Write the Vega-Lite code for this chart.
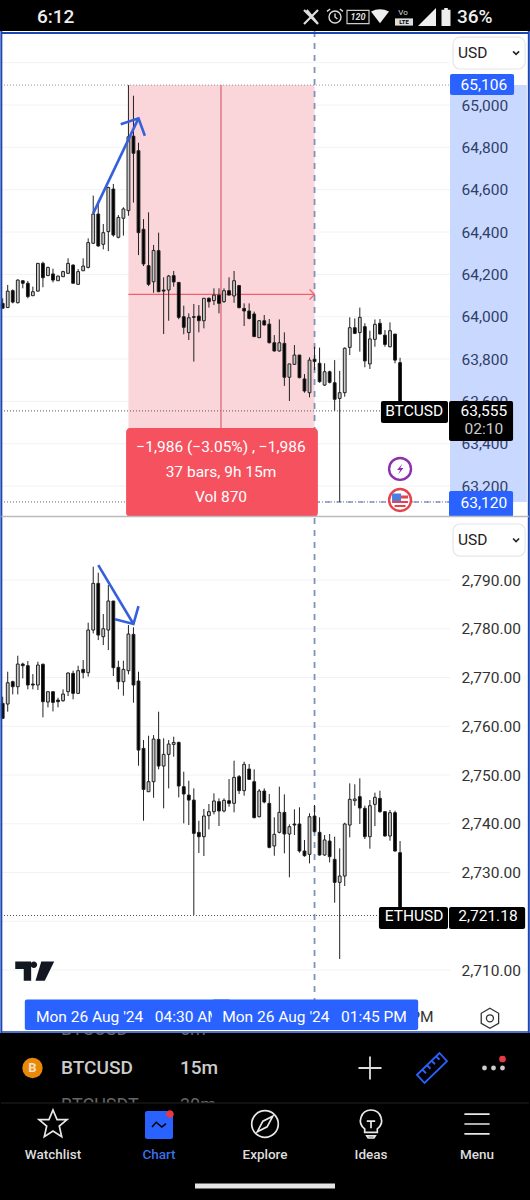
{"$schema":"https://vega.github.io/schema/vega-lite/v6.json","background":"#000","padding":0,"spacing":0,"bounds":"flush","config":{"view":{"stroke":null},"text":{"font":"Roboto"},"concat":{"spacing":0}},
"datasets":{
"btc":[
{"t":"2024-08-25T22:15","o":64063,"h":64087,"l":64040,"c":64040},{"t":"2024-08-25T22:30","o":64043,"h":64150,"l":64043,"c":64121},{"t":"2024-08-25T22:45","o":64123,"h":64129,"l":64063,"c":64069},{"t":"2024-08-25T23:00","o":64066,"h":64176,"l":64063,"c":64173},{"t":"2024-08-25T23:15","o":64170,"h":64170,"l":64134,"c":64158},{"t":"2024-08-25T23:30","o":64158,"h":64169,"l":64087,"c":64095},{"t":"2024-08-25T23:45","o":64099,"h":64142,"l":64099,"c":64118},
{"t":"2024-08-26T00:00","o":64121,"h":64252,"l":64118,"c":64252},{"t":"2024-08-26T00:15","o":64252,"h":64260,"l":64139,"c":64184},{"t":"2024-08-26T00:30","o":64194,"h":64236,"l":64192,"c":64233},{"t":"2024-08-26T00:45","o":64202,"h":64227,"l":64162,"c":64173},{"t":"2024-08-26T01:00","o":64170,"h":64194,"l":64170,"c":64192},{"t":"2024-08-26T01:15","o":64189,"h":64217,"l":64189,"c":64213},{"t":"2024-08-26T01:30","o":64205,"h":64276,"l":64202,"c":64252},{"t":"2024-08-26T01:45","o":64244,"h":64247,"l":64158,"c":64158},{"t":"2024-08-26T02:00","o":64153,"h":64225,"l":64150,"c":64213},{"t":"2024-08-26T02:15","o":64217,"h":64276,"l":64217,"c":64239},{"t":"2024-08-26T02:30","o":64233,"h":64370,"l":64228,"c":64350},{"t":"2024-08-26T02:45","o":64347,"h":64572,"l":64343,"c":64485},{"t":"2024-08-26T03:00","o":64485,"h":64548,"l":64331,"c":64334},{"t":"2024-08-26T03:15","o":64342,"h":64438,"l":64318,"c":64397},{"t":"2024-08-26T03:30","o":64402,"h":64614,"l":64310,"c":64610},{"t":"2024-08-26T03:45","o":64603,"h":64627,"l":64378,"c":64386},{"t":"2024-08-26T04:00","o":64375,"h":64480,"l":64370,"c":64469},{"t":"2024-08-26T04:15","o":64465,"h":64517,"l":64383,"c":64509},{"t":"2024-08-26T04:30","o":64501,"h":65094,"l":64477,"c":64850},{"t":"2024-08-26T04:45","o":64853,"h":65044,"l":64539,"c":64772},{"t":"2024-08-26T05:00","o":64784,"h":64822,"l":64291,"c":64397},{"t":"2024-08-26T05:15","o":64413,"h":64461,"l":64239,"c":64249},{"t":"2024-08-26T05:30","o":64241,"h":64493,"l":64145,"c":64153},{"t":"2024-08-26T05:45","o":64165,"h":64339,"l":64113,"c":64313},{"t":"2024-08-26T06:00","o":64312,"h":64397,"l":64118,"c":64118},{"t":"2024-08-26T06:15","o":64126,"h":64186,"l":63918,"c":64121},{"t":"2024-08-26T06:30","o":64126,"h":64197,"l":63981,"c":64192},{"t":"2024-08-26T06:45","o":64194,"h":64216,"l":64142,"c":64164},{"t":"2024-08-26T07:00","o":64162,"h":64162,"l":63988,"c":63997},{"t":"2024-08-26T07:15","o":64000,"h":64052,"l":63917,"c":63950},{"t":"2024-08-26T07:30","o":63925,"h":64016,"l":63890,"c":63995},{"t":"2024-08-26T07:45","o":64000,"h":64060,"l":63788,"c":63997},{"t":"2024-08-26T08:00","o":64003,"h":64055,"l":63926,"c":63981},{"t":"2024-08-26T08:15","o":63981,"h":64088,"l":63945,"c":64087},{"t":"2024-08-26T08:30","o":64087,"h":64091,"l":64043,"c":64071},{"t":"2024-08-26T08:45","o":64076,"h":64134,"l":64055,"c":64102},{"t":"2024-08-26T09:00","o":64102,"h":64134,"l":64016,"c":64063},{"t":"2024-08-26T09:15","o":64071,"h":64134,"l":64066,"c":64123},{"t":"2024-08-26T09:30","o":64123,"h":64186,"l":64102,"c":64102},{"t":"2024-08-26T09:45","o":64098,"h":64216,"l":64066,"c":64170},{"t":"2024-08-26T10:00","o":64147,"h":64150,"l":64039,"c":64043},{"t":"2024-08-26T10:15","o":64039,"h":64063,"l":63956,"c":64027},{"t":"2024-08-26T10:30","o":64027,"h":64063,"l":63987,"c":63992},{"t":"2024-08-26T10:45","o":64013,"h":64024,"l":63906,"c":63906},{"t":"2024-08-26T11:00","o":63901,"h":63984,"l":63901,"c":63981},{"t":"2024-08-26T11:15","o":63981,"h":64008,"l":63958,"c":63961},{"t":"2024-08-26T11:30","o":63965,"h":63989,"l":63874,"c":63877},{"t":"2024-08-26T11:45","o":63877,"h":63913,"l":63835,"c":63838},{"t":"2024-08-26T12:00","o":63838,"h":63987,"l":63835,"c":63877},{"t":"2024-08-26T12:15","o":63874,"h":63926,"l":63673,"c":63714},{"t":"2024-08-26T12:30","o":63714,"h":63777,"l":63602,"c":63777},{"t":"2024-08-26T12:45","o":63775,"h":63866,"l":63772,"c":63819},{"t":"2024-08-26T13:00","o":63819,"h":63819,"l":63709,"c":63712},{"t":"2024-08-26T13:15","o":63706,"h":63729,"l":63641,"c":63649},{"t":"2024-08-26T13:30","o":63641,"h":63808,"l":63619,"c":63795},{"t":"2024-08-26T13:45","o":63799,"h":63858,"l":63748,"c":63788},{"t":"2024-08-26T14:00","o":63780,"h":63854,"l":63688,"c":63693},{"t":"2024-08-26T14:15","o":63677,"h":63780,"l":63673,"c":63740},{"t":"2024-08-26T14:30","o":63740,"h":63745,"l":63685,"c":63690},{"t":"2024-08-26T14:45","o":63688,"h":63795,"l":63556,"c":63610},{"t":"2024-08-26T15:00","o":63614,"h":63744,"l":63125,"c":63641},{"t":"2024-08-26T15:15","o":63641,"h":63855,"l":63622,"c":63851},{"t":"2024-08-26T15:30","o":63855,"h":63997,"l":63819,"c":63948},{"t":"2024-08-26T15:45","o":63948,"h":63992,"l":63918,"c":63921},{"t":"2024-08-26T16:00","o":63925,"h":64043,"l":63835,"c":63997},{"t":"2024-08-26T16:15","o":63953,"h":63969,"l":63761,"c":63791},{"t":"2024-08-26T16:30","o":63777,"h":63934,"l":63753,"c":63895},{"t":"2024-08-26T16:45","o":63893,"h":63987,"l":63858,"c":63964},{"t":"2024-08-26T17:00","o":63969,"h":63989,"l":63918,"c":63918},{"t":"2024-08-26T17:15","o":63913,"h":63937,"l":63858,"c":63869},{"t":"2024-08-26T17:30","o":63858,"h":63973,"l":63855,"c":63934},{"t":"2024-08-26T17:45","o":63918,"h":63918,"l":63780,"c":63795},{"t":"2024-08-26T18:00","o":63783,"h":63806,"l":63555,"c":63555}],
"eth":[
{"t":"2024-08-25T22:15","o":2764.70,"h":2766.06,"l":2761.62,"c":2761.62},{"t":"2024-08-25T22:30","o":2764.56,"h":2771.19,"l":2762.99,"c":2768.93},{"t":"2024-08-25T22:45","o":2769.14,"h":2769.35,"l":2766.54,"c":2768.11},{"t":"2024-08-25T23:00","o":2768.11,"h":2774.47,"l":2766.54,"c":2772.76},{"t":"2024-08-25T23:15","o":2772.76,"h":2773.04,"l":2769.82,"c":2772.42},{"t":"2024-08-25T23:30","o":2772.42,"h":2773.38,"l":2767.57,"c":2768.46},{"t":"2024-08-25T23:45","o":2768.66,"h":2770.71,"l":2767.57,"c":2768.46},
{"t":"2024-08-26T00:00","o":2768.46,"h":2773.24,"l":2767.43,"c":2772.56},{"t":"2024-08-26T00:15","o":2772.70,"h":2772.90,"l":2761.82,"c":2765.04},{"t":"2024-08-26T00:30","o":2764.97,"h":2767.09,"l":2763.87,"c":2767.09},{"t":"2024-08-26T00:45","o":2767.09,"h":2767.09,"l":2763.05,"c":2764.90},{"t":"2024-08-26T01:00","o":2765.38,"h":2765.86,"l":2763.87,"c":2765.04},{"t":"2024-08-26T01:15","o":2765.24,"h":2767.57,"l":2765.04,"c":2766.61},{"t":"2024-08-26T01:30","o":2767.09,"h":2771.05,"l":2766.20,"c":2770.92},{"t":"2024-08-26T01:45","o":2770.85,"h":2771.40,"l":2765.52,"c":2766.75},{"t":"2024-08-26T02:00","o":2766.75,"h":2772.42,"l":2766.61,"c":2771.40},{"t":"2024-08-26T02:15","o":2771.67,"h":2773.58,"l":2769.82,"c":2770.99},{"t":"2024-08-26T02:30","o":2770.99,"h":2781.24,"l":2770.17,"c":2779.74},{"t":"2024-08-26T02:45","o":2779.74,"h":2792.73,"l":2779.05,"c":2789.31},{"t":"2024-08-26T03:00","o":2789.31,"h":2791.50,"l":2777.69,"c":2778.71},{"t":"2024-08-26T03:15","o":2778.37,"h":2783.02,"l":2776.66,"c":2780.01},{"t":"2024-08-26T03:30","o":2779.74,"h":2788.97,"l":2775.64,"c":2785.69},{"t":"2024-08-26T03:45","o":2785.69,"h":2785.69,"l":2770.30,"c":2772.01},{"t":"2024-08-26T04:00","o":2772.08,"h":2773.45,"l":2767.57,"c":2769.14},{"t":"2024-08-26T04:15","o":2769.14,"h":2773.45,"l":2766.27,"c":2771.67},{"t":"2024-08-26T04:30","o":2771.40,"h":2780.76,"l":2770.64,"c":2778.92},{"t":"2024-08-26T04:45","o":2778.85,"h":2780.29,"l":2764.83,"c":2768.46},{"t":"2024-08-26T05:00","o":2769.28,"h":2771.19,"l":2751.91,"c":2755.12},{"t":"2024-08-26T05:15","o":2755.46,"h":2757.17,"l":2740.63,"c":2747.05},{"t":"2024-08-26T05:30","o":2746.57,"h":2758.06,"l":2746.57,"c":2748.63},{"t":"2024-08-26T05:45","o":2748.63,"h":2758.20,"l":2745.34,"c":2757.38},{"t":"2024-08-26T06:00","o":2757.31,"h":2762.99,"l":2751.16,"c":2751.84},{"t":"2024-08-26T06:15","o":2751.84,"h":2757.52,"l":2743.16,"c":2754.23},{"t":"2024-08-26T06:30","o":2754.23,"h":2757.17,"l":2747.26,"c":2756.35},{"t":"2024-08-26T06:45","o":2756.28,"h":2757.86,"l":2753.75,"c":2756.69},{"t":"2024-08-26T07:00","o":2756.69,"h":2756.83,"l":2745.41,"c":2747.74},{"t":"2024-08-26T07:15","o":2747.60,"h":2750.68,"l":2740.08,"c":2746.10},{"t":"2024-08-26T07:30","o":2745.89,"h":2748.83,"l":2739.74,"c":2744.86},{"t":"2024-08-26T07:45","o":2744.86,"h":2747.26,"l":2721.30,"c":2738.03},{"t":"2024-08-26T08:00","o":2738.23,"h":2740.63,"l":2734.00,"c":2737.34},{"t":"2024-08-26T08:15","o":2737.35,"h":2743.03,"l":2733.38,"c":2741.59},{"t":"2024-08-26T08:30","o":2741.66,"h":2744.05,"l":2738.85,"c":2742.48},{"t":"2024-08-26T08:45","o":2742.48,"h":2746.24,"l":2741.93,"c":2744.67},{"t":"2024-08-26T09:00","o":2744.53,"h":2745.21,"l":2739.54,"c":2742.62},{"t":"2024-08-26T09:15","o":2742.62,"h":2745.21,"l":2742.34,"c":2744.80},{"t":"2024-08-26T09:30","o":2744.73,"h":2749.18,"l":2743.50,"c":2744.19},{"t":"2024-08-26T09:45","o":2744.19,"h":2752.94,"l":2742.34,"c":2749.52},{"t":"2024-08-26T10:00","o":2749.66,"h":2750.00,"l":2746.10,"c":2746.79},{"t":"2024-08-26T10:15","o":2746.79,"h":2752.74,"l":2745.76,"c":2752.19},{"t":"2024-08-26T10:30","o":2751.23,"h":2752.26,"l":2748.97,"c":2749.11},{"t":"2024-08-26T10:45","o":2748.63,"h":2751.16,"l":2741.11,"c":2741.25},{"t":"2024-08-26T11:00","o":2741.45,"h":2747.13,"l":2741.32,"c":2746.72},{"t":"2024-08-26T11:15","o":2746.72,"h":2747.26,"l":2744.19,"c":2744.46},{"t":"2024-08-26T11:30","o":2744.19,"h":2746.10,"l":2734.96,"c":2735.16},{"t":"2024-08-26T11:45","o":2735.44,"h":2741.32,"l":2733.45,"c":2737.83},{"t":"2024-08-26T12:00","o":2738.24,"h":2747.61,"l":2738.03,"c":2742.34},{"t":"2024-08-26T12:15","o":2742.34,"h":2746.03,"l":2733.93,"c":2737.90},{"t":"2024-08-26T12:30","o":2737.90,"h":2739.88,"l":2729.01,"c":2739.40},{"t":"2024-08-26T12:45","o":2739.95,"h":2742.96,"l":2737.69,"c":2739.74},{"t":"2024-08-26T13:00","o":2739.95,"h":2743.37,"l":2734.07,"c":2734.41},{"t":"2024-08-26T13:15","o":2734.41,"h":2736.67,"l":2733.25,"c":2733.45},{"t":"2024-08-26T13:30","o":2733.73,"h":2742.14,"l":2731.88,"c":2741.45},{"t":"2024-08-26T13:45","o":2741.59,"h":2743.85,"l":2738.24,"c":2738.38},{"t":"2024-08-26T14:00","o":2738.24,"h":2741.32,"l":2733.45,"c":2733.59},{"t":"2024-08-26T14:15","o":2733.59,"h":2737.69,"l":2733.45,"c":2736.67},{"t":"2024-08-26T14:30","o":2736.46,"h":2737.90,"l":2732.08,"c":2733.25},{"t":"2024-08-26T14:45","o":2732.70,"h":2737.35,"l":2723.81,"c":2727.98},{"t":"2024-08-26T15:00","o":2727.98,"h":2734.96,"l":2712.25,"c":2729.28},{"t":"2024-08-26T15:15","o":2729.28,"h":2740.22,"l":2727.23,"c":2739.95},{"t":"2024-08-26T15:30","o":2739.74,"h":2748.29,"l":2737.21,"c":2745.01},{"t":"2024-08-26T15:45","o":2744.73,"h":2748.09,"l":2743.71,"c":2745.08},{"t":"2024-08-26T16:00","o":2745.56,"h":2749.32,"l":2739.95,"c":2743.23},{"t":"2024-08-26T16:15","o":2743.16,"h":2743.71,"l":2736.87,"c":2737.35},{"t":"2024-08-26T16:30","o":2737.35,"h":2744.87,"l":2734.89,"c":2743.71},{"t":"2024-08-26T16:45","o":2743.98,"h":2746.38,"l":2739.54,"c":2745.42},{"t":"2024-08-26T17:00","o":2745.21,"h":2746.79,"l":2742.27,"c":2742.48},{"t":"2024-08-26T17:15","o":2742.48,"h":2742.48,"l":2737.35,"c":2737.49},{"t":"2024-08-26T17:30","o":2737.49,"h":2742.82,"l":2736.53,"c":2742.27},{"t":"2024-08-26T17:45","o":2742.27,"h":2742.68,"l":2734.27,"c":2734.41},{"t":"2024-08-26T18:00","o":2734.07,"h":2736.46,"l":2721.18,"c":2721.18}],
"vgrid":[{"t":"2024-08-26T00:00"},{"t":"2024-08-26T06:00"},{"t":"2024-08-26T12:00"},{"t":"2024-08-26T18:00"}]
},
"vconcat":[
{"width":530,"height":31,"data":{"values":[{"panel":"status"}]},"layer":[
{"mark":{"type":"text","align":"left","fontSize":19,"fontWeight":500,"color":"#eee"},"encoding":{"text":{"value":"6:12"},"x":{"datum":37,"scale":{"domain":[0,530]},"axis":null},"y":{"datum":17,"scale":{"domain":[31,0]},"axis":null}}},
{"mark":{"type":"text","align":"left","fontSize":19,"fontWeight":500,"color":"#eee"},"encoding":{"text":{"value":"36%"},"x":{"datum":457,"scale":{"domain":[0,530]},"axis":null},"y":{"datum":17,"scale":{"domain":[31,0]},"axis":null}}},
{"mark":{"type":"point","shape":"M-1,-1L1,1M1,-1L-1,1M-.6,-1L1,1","filled":false,"opacity":1,"stroke":"#ddd","strokeWidth":2.2,"size":196},"encoding":{"x":{"datum":311,"scale":{"domain":[0,530]},"axis":null},"y":{"datum":17,"scale":{"domain":[31,0]},"axis":null}}},
{"mark":{"type":"point","shape":"M-.75,0A.75,.75 0 1,1 .75,0A.75,.75 0 1,1 -.75,0M0,-.45V0L.3,.25M-1,-.7L-.6,-1M1,-.7L.6,-1","filled":false,"opacity":1,"stroke":"#ddd","strokeWidth":1.4,"size":256},"encoding":{"x":{"datum":335,"scale":{"domain":[0,530]},"axis":null},"y":{"datum":17,"scale":{"domain":[31,0]},"axis":null}}},
{"mark":{"type":"point","shape":"M-1,-.6H1V.6H-1Z","filled":false,"opacity":1,"stroke":"#ccc","strokeWidth":1.2,"size":484},"encoding":{"x":{"datum":358,"scale":{"domain":[0,530]},"axis":null},"y":{"datum":17,"scale":{"domain":[31,0]},"axis":null}}},
{"mark":{"type":"text","fontSize":9,"fontStyle":"italic","fontWeight":700,"color":"#ddd"},"encoding":{"text":{"value":"120"},"x":{"datum":358,"scale":{"domain":[0,530]},"axis":null},"y":{"datum":17,"scale":{"domain":[31,0]},"axis":null}}},
{"mark":{"type":"point","shape":"M-1,-.6Q0,-1.1 1,-.6L0,.7Z","filled":true,"opacity":1,"color":"#eee","size":324},"encoding":{"x":{"datum":380,"scale":{"domain":[0,530]},"axis":null},"y":{"datum":17,"scale":{"domain":[31,0]},"axis":null}}},
{"mark":{"type":"text","fontSize":8,"color":"#ddd"},"encoding":{"text":{"value":"Vo"},"x":{"datum":403,"scale":{"domain":[0,530]},"axis":null},"y":{"datum":13,"scale":{"domain":[31,0]},"axis":null}}},
{"mark":{"type":"point","shape":"M-1,-.4H1V.4H-1Z","filled":true,"opacity":1,"color":"#ddd","size":324},"encoding":{"x":{"datum":404,"scale":{"domain":[0,530]},"axis":null},"y":{"datum":22,"scale":{"domain":[31,0]},"axis":null}}},
{"mark":{"type":"text","fontSize":6,"fontWeight":700,"color":"#000"},"encoding":{"text":{"value":"LTE"},"x":{"datum":404,"scale":{"domain":[0,530]},"axis":null},"y":{"datum":22,"scale":{"domain":[31,0]},"axis":null}}},
{"mark":{"type":"point","shape":"M1,-1V1H-1Z","filled":true,"opacity":1,"color":"#eee","size":324},"encoding":{"x":{"datum":427,"scale":{"domain":[0,530]},"axis":null},"y":{"datum":17,"scale":{"domain":[31,0]},"axis":null}}},
{"mark":{"type":"point","shape":"M-.5,-.8H.5V1H-.5ZM-.2,-1H.2V-.8H-.2Z","filled":true,"opacity":1,"color":"#eee","size":324},"encoding":{"x":{"datum":446,"scale":{"domain":[0,530]},"axis":null},"y":{"datum":17,"scale":{"domain":[31,0]},"axis":null}}}
]},
{"width":530,"height":487,"view":{"fill":"#fff"},
"encoding":{"x":{"field":"t","type":"temporal","title":null,"axis":null,"scale":{"padding":0,"domain":[{"year":2024,"month":8,"date":25,"hours":22,"minutes":7},{"year":2024,"month":8,"date":27,"hours":0,"minutes":27,"seconds":30}]}},
"y":{"field":"p","type":"quantitative","title":null,"scale":{"domain":[63049.1,65349.6],"nice":false,"zero":false},"axis":{"orient":"right","offset":-80,"values":[63200,63400,63600,63800,64000,64200,64400,64600,64800,65000],"format":",.0f","labelFontSize":15.5,"labelFont":"Roboto","labelColor":"#333","labelPadding":11,"ticks":false,"domain":false,"grid":false,"labelOverlap":false,"labelBound":false,"labelFlush":false}}},
"layer":[
{"data":{"values":[{"t":"2024-08-25T22:10","t2":"2024-08-26T20:29","p":63200},{"t":"2024-08-25T22:10","t2":"2024-08-26T20:29","p":63400},{"t":"2024-08-25T22:10","t2":"2024-08-26T20:29","p":63600},{"t":"2024-08-25T22:10","t2":"2024-08-26T20:29","p":63800},{"t":"2024-08-25T22:10","t2":"2024-08-26T20:29","p":64000},{"t":"2024-08-25T22:10","t2":"2024-08-26T20:29","p":64200},{"t":"2024-08-25T22:10","t2":"2024-08-26T20:29","p":64400},{"t":"2024-08-25T22:10","t2":"2024-08-26T20:29","p":64600},{"t":"2024-08-25T22:10","t2":"2024-08-26T20:29","p":64800},{"t":"2024-08-25T22:10","t2":"2024-08-26T20:29","p":65000},{"t":"2024-08-25T22:10","t2":"2024-08-26T20:29","p":65200}]},"mark":{"type":"rule","color":"#f0f2f5","strokeWidth":1},"encoding":{"x2":{"field":"t2"}}},
{"data":{"name":"vgrid"},"mark":{"type":"rule","color":"#f0f2f5","strokeWidth":1},"encoding":{"y":{"datum":63049.1},"y2":{"datum":65349.6}}},
{"data":{"values":[{"t":"2024-08-26T04:30","t2":"2024-08-26T13:45","p":65094,"p2":63125}]},"mark":{"type":"rect","color":"#fad6da"},"encoding":{"x2":{"field":"t2"},"y2":{"field":"p2"}}},
{"data":{"values":[{"t":"2024-08-26T20:29","t2":"2024-08-27T00:18","p":65094,"p2":63125}]},"mark":{"type":"rect","color":"#2962ff","opacity":0.25},"encoding":{"x2":{"field":"t2"},"y2":{"field":"p2"}}},
{"data":{"values":[{"t":"2024-08-25T22:10","t2":"2024-08-26T20:29","p":65094}]},"mark":{"type":"rule","color":"#999","strokeWidth":1,"strokeDash":[1,2]},"encoding":{"x2":{"field":"t2"}}},
{"data":{"values":[{"t":"2024-08-25T22:10","t2":"2024-08-26T17:03","p":63555}]},"mark":{"type":"rule","color":"#555","strokeWidth":1,"strokeDash":[1,2]},"encoding":{"x2":{"field":"t2"}}},
{"data":{"values":[{"t":"2024-08-25T22:10","t2":"2024-08-26T20:29","p":63125}]},"mark":{"type":"rule","color":"#667","strokeWidth":1,"strokeDash":[1,2]},"encoding":{"x2":{"field":"t2"}}},
{"data":{"values":[{"t":"2024-08-26T13:45","t2":"2024-08-26T20:29","p":63125}]},"mark":{"type":"rule","color":"#7d93c8","strokeWidth":1.6,"strokeDash":[5,6]},"encoding":{"x2":{"field":"t2"}}},
{"data":{"values":[{"t":"2024-08-26T13:45","p":65349.6,"p2":63049.1}]},"mark":{"type":"rule","color":"#7d93b8","strokeWidth":1.8,"strokeDash":[6,6]},"encoding":{"y2":{"field":"p2"}}},
{"data":{"values":[{"t":"2024-08-26T04:30","t2":"2024-08-26T13:45","p":64105}]},"mark":{"type":"rule","color":"#f0606c","strokeWidth":1.2},"encoding":{"x2":{"field":"t2"}}},
{"data":{"values":[{"t":"2024-08-26T09:06","p":65094,"p2":63474}]},"mark":{"type":"rule","color":"#d9606c","strokeWidth":1.2},"encoding":{"y2":{"field":"p2"}}},
{"data":{"values":[{"t":"2024-08-26T13:45","p":64105}]},"mark":{"type":"point","shape":"M-1,-1L0,0L-1,1","filled":false,"opacity":1,"stroke":"#f0606c","strokeWidth":1.2,"size":100}},
{"data":{"name":"btc"},"mark":{"type":"rule","color":"#222","strokeWidth":1},"encoding":{"y":{"field":"h","type":"quantitative","title":null},"y2":{"field":"l"}}},
{"data":{"name":"btc"},"mark":{"type":"bar","size":2.8,"stroke":"#222","strokeWidth":1},"encoding":{"y":{"field":"o","type":"quantitative","title":null},"y2":{"field":"c"},"fill":{"condition":{"test":"datum.c>datum.o","value":"#c8c8c8"},"value":"#000"}}},
{"data":{"values":[{"t":"2024-08-26T02:45","p":64488,"seg":"a","k":1},{"t":"2024-08-26T05:00","p":64937,"seg":"a","k":2},{"t":"2024-08-26T04:07","p":64909,"seg":"b","k":1},{"t":"2024-08-26T05:00","p":64937,"seg":"b","k":2},{"t":"2024-08-26T05:19","p":64855,"seg":"b","k":3}]},"mark":{"type":"line","color":"#3460dc","strokeWidth":2.6},"encoding":{"detail":{"field":"seg"},"order":{"field":"k"}}},
{"data":{"values":[{"t":"2024-08-26T04:23","t2":"2024-08-26T13:55","p":63474,"p2":63054}]},"mark":{"type":"rect","color":"#f5515f","cornerRadius":4},"encoding":{"x2":{"field":"t2"},"y2":{"field":"p2"}}},
{"data":{"values":[{"t":"2024-08-26T09:06","p":63385,"label":"−1,986 (−3.05%) , −1,986"},{"t":"2024-08-26T09:06","p":63266,"label":"37 bars, 9h 15m"},{"t":"2024-08-26T09:06","p":63148,"label":"Vol 870"}]},"mark":{"type":"text","fontSize":15.5,"color":"#fff"},"encoding":{"text":{"field":"label"}}},
{"data":{"values":[{"t":"2024-08-26T17:03","t2":"2024-08-26T20:23","p":63602,"p2":63498},{"t":"2024-08-26T20:26","t2":"2024-08-26T23:37","p":63602,"p2":63413}]},"mark":{"type":"rect","color":"#000","cornerRadius":2},"encoding":{"x2":{"field":"t2"},"y2":{"field":"p2"}}},
{"data":{"values":[{"t":"2024-08-26T20:29","t2":"2024-08-26T23:40","p":65146,"p2":65047},{"t":"2024-08-26T20:26","t2":"2024-08-26T23:37","p":63177,"p2":63054}]},"mark":{"type":"rect","color":"#2962ff","cornerRadius":2},"encoding":{"x2":{"field":"t2"},"y2":{"field":"p2"}}},
{"data":{"values":[{"t":"2024-08-26T18:42","p":63555,"label":"BTCUSD"},{"t":"2024-08-26T22:10","p":63555,"label":"63,555"},{"t":"2024-08-26T22:10","p":65094,"label":"65,106"},{"t":"2024-08-26T22:10","p":63121,"label":"63,120"}]},"mark":{"type":"text","fontSize":15.5,"color":"#fff"},"encoding":{"text":{"field":"label"}}},
{"data":{"values":[{"t":"2024-08-26T22:10","p":63470,"label":"02:10"}]},"mark":{"type":"text","fontSize":15.5,"color":"#ccc"},"encoding":{"text":{"field":"label"}}},
{"data":{"values":[{"t":"2024-08-26T18:00","p":63281}]},"mark":{"type":"point","shape":"circle","filled":true,"opacity":1,"fill":"#fff","stroke":"#8e2fb0","strokeWidth":2.4,"size":480}},
{"data":{"values":[{"t":"2024-08-26T18:00","p":63281}]},"mark":{"type":"point","shape":"M.25,-.55L-.3,.1H.02L-.2,.55L.35,-.1H.02Z","filled":true,"opacity":1,"color":"#8e2fb0","size":400}},
{"data":{"values":[{"t":"2024-08-26T18:00","p":63134}]},"mark":{"type":"point","shape":"circle","filled":true,"opacity":1,"fill":"#fff","stroke":"#e5434c","strokeWidth":2.4,"size":480}},
{"data":{"values":[{"t":"2024-08-26T18:00","p":63134}]},"mark":{"type":"point","shape":"M-.8,-.65H.1V.1H-.8Z","filled":true,"opacity":1,"color":"#4a7fe0","size":400}},
{"data":{"values":[{"t":"2024-08-26T18:00","p":63134}]},"mark":{"type":"point","shape":"M.1,-.45H.8V-.15H.1ZM-.8,.1H.8V.3H-.8ZM-.55,.5H.55V.7H-.55Z","filled":true,"opacity":1,"color":"#e5434c","size":400}},
{"data":{"values":[{"t":"2024-08-26T20:38","t2":"2024-08-27T00:13","p":65321,"p2":65170}]},"mark":{"type":"rect","fill":"#fff","stroke":"#e6e6e6","strokeWidth":1.2,"cornerRadius":7},"encoding":{"x2":{"field":"t2"},"y2":{"field":"p2"}}},
{"data":{"values":[{"t":"2024-08-26T20:53","p":65246,"label":"USD"}]},"mark":{"type":"text","align":"left","fontSize":15.5,"color":"#222"},"encoding":{"text":{"field":"label"}}},
{"data":{"values":[{"t":"2024-08-26T23:46","p":65246}]},"mark":{"type":"point","shape":"M-.6,-.3L0,.3L.6,-.3","filled":false,"opacity":1,"stroke":"#222","strokeWidth":1.6,"size":100}},
{"data":{"values":[{"t":"2024-08-25T22:11","p":65349.6,"p2":63049.1},{"t":"2024-08-27T00:24","p":65349.6,"p2":63049.1}]},"mark":{"type":"rule","color":"#1b47b5","strokeWidth":2},"encoding":{"y2":{"field":"p2"}}},
{"data":{"values":[{"t":"2024-08-25T22:10","t2":"2024-08-27T00:24","p":65340}]},"mark":{"type":"rule","color":"#1b47b5","strokeWidth":2},"encoding":{"x2":{"field":"t2"}}},
{"data":{"values":[{"t":"2024-08-25T22:11","t2":"2024-08-27T00:24","p":63056}]},"mark":{"type":"rule","color":"#bbb","strokeWidth":1.4},"encoding":{"x2":{"field":"t2"}}}
]},
{"width":530,"height":515,"view":{"fill":"#fff"},
"encoding":{"x":{"field":"t","type":"temporal","title":null,"scale":{"padding":0,"domain":[{"year":2024,"month":8,"date":25,"hours":22,"minutes":7},{"year":2024,"month":8,"date":27,"hours":0,"minutes":27,"seconds":30}]},"axis":{"orient":"bottom","offset":-30,"values":[{"year":2024,"month":8,"date":26,"hours":18}],"format":"%I:%M %p","labelFontSize":15.5,"labelFont":"Roboto","labelColor":"#333","labelPadding":6,"ticks":false,"domain":false,"grid":false,"labelBound":false,"labelFlush":false}},
"y":{"field":"p","type":"quantitative","title":null,"scale":{"domain":[2697.08,2802.72],"nice":false,"zero":false},"axis":{"orient":"right","offset":-80,"values":[2710,2730,2740,2750,2760,2770,2780,2790],"format":",.2f","labelFontSize":15.5,"labelFont":"Roboto","labelColor":"#333","labelPadding":11,"ticks":false,"domain":false,"grid":false,"labelOverlap":false,"labelBound":false,"labelFlush":false}}},
"layer":[
{"data":{"values":[{"t":"2024-08-25T22:10","t2":"2024-08-26T20:29","p":2710},{"t":"2024-08-25T22:10","t2":"2024-08-26T20:29","p":2720},{"t":"2024-08-25T22:10","t2":"2024-08-26T20:29","p":2730},{"t":"2024-08-25T22:10","t2":"2024-08-26T20:29","p":2740},{"t":"2024-08-25T22:10","t2":"2024-08-26T20:29","p":2750},{"t":"2024-08-25T22:10","t2":"2024-08-26T20:29","p":2760},{"t":"2024-08-25T22:10","t2":"2024-08-26T20:29","p":2770},{"t":"2024-08-25T22:10","t2":"2024-08-26T20:29","p":2780},{"t":"2024-08-25T22:10","t2":"2024-08-26T20:29","p":2790}]},"mark":{"type":"rule","color":"#f0f2f5","strokeWidth":1},"encoding":{"x2":{"field":"t2"}}},
{"data":{"name":"vgrid"},"mark":{"type":"rule","color":"#f0f2f5","strokeWidth":1},"encoding":{"y":{"datum":2697.08},"y2":{"datum":2802.72}}},
{"data":{"values":[{"t":"2024-08-25T22:10","t2":"2024-08-26T16:57","p":2721.18}]},"mark":{"type":"rule","color":"#555","strokeWidth":1,"strokeDash":[1,2]},"encoding":{"x2":{"field":"t2"}}},
{"data":{"values":[{"t":"2024-08-26T13:45","p":2802.72,"p2":2697.08}]},"mark":{"type":"rule","color":"#7d93b8","strokeWidth":1.8,"strokeDash":[6,6]},"encoding":{"y2":{"field":"p2"}}},
{"data":{"name":"eth"},"mark":{"type":"rule","color":"#222","strokeWidth":1},"encoding":{"y":{"field":"h","type":"quantitative","title":null},"y2":{"field":"l"}}},
{"data":{"name":"eth"},"mark":{"type":"bar","size":2.8,"stroke":"#222","strokeWidth":1},"encoding":{"y":{"field":"o","type":"quantitative","title":null},"y2":{"field":"c"},"fill":{"condition":{"test":"datum.c>datum.o","value":"#c8c8c8"},"value":"#000"}}},
{"data":{"values":[{"t":"2024-08-26T03:00","p":2793.07,"seg":"a","k":1},{"t":"2024-08-26T04:45","p":2780.97,"seg":"a","k":2},{"t":"2024-08-26T03:50","p":2781.93,"seg":"b","k":1},{"t":"2024-08-26T04:45","p":2780.97,"seg":"b","k":2},{"t":"2024-08-26T05:00","p":2784.66,"seg":"b","k":3}]},"mark":{"type":"line","color":"#3460dc","strokeWidth":2.6},"encoding":{"detail":{"field":"seg"},"order":{"field":"k"}}},
{"data":{"values":[{"t":"2024-08-26T16:57","t2":"2024-08-26T20:23","p":2722.92,"p2":2718.41},{"t":"2024-08-26T20:26","t2":"2024-08-27T00:13","p":2722.92,"p2":2718.41}]},"mark":{"type":"rect","color":"#000","cornerRadius":2},"encoding":{"x2":{"field":"t2"},"y2":{"field":"p2"}}},
{"data":{"values":[{"t":"2024-08-26T18:42","p":2721.18,"label":"ETHUSD"},{"t":"2024-08-26T22:22","p":2721.18,"label":"2,721.18"}]},"mark":{"type":"text","fontSize":15.5,"color":"#fff"},"encoding":{"text":{"field":"label"}}},
{"data":{"values":[{"t":"2024-08-26T20:38","t2":"2024-08-27T00:13","p":2801.49,"p2":2794.92}]},"mark":{"type":"rect","fill":"#fff","stroke":"#e6e6e6","strokeWidth":1.2,"cornerRadius":7},"encoding":{"x2":{"field":"t2"},"y2":{"field":"p2"}}},
{"data":{"values":[{"t":"2024-08-26T20:53","p":2798.2,"label":"USD"}]},"mark":{"type":"text","align":"left","fontSize":15.5,"color":"#222"},"encoding":{"text":{"field":"label"}}},
{"data":{"values":[{"t":"2024-08-26T23:46","p":2798.2}]},"mark":{"type":"point","shape":"M-.6,-.3L0,.3L.6,-.3","filled":false,"opacity":1,"stroke":"#222","strokeWidth":1.6,"size":100}},
{"data":{"values":[{"t":"2024-08-25T23:50","p":2709.8}]},"mark":{"type":"point","shape":"M-1,-.49H-.175V.51H-.56V-.105H-1ZM.35,-.49H1.02L.53,.51H.05ZM-.205,-.32A.17,.17 0 1,1 .135,-.32A.17,.17 0 1,1 -.205,-.32Z","filled":true,"opacity":1,"color":"#131722","size":1490}},
{"data":{"values":[{"t":"2024-08-26T22:28","p":2700.1}]},"mark":{"type":"point","shape":"M0,-1L.87,-.5V.5L0,1L-.87,.5V-.5ZM-.35,0A.35,.35 0 1,1 .35,0A.35,.35 0 1,1 -.35,0Z","filled":false,"opacity":1,"stroke":"#333","strokeWidth":1.3,"size":400}},
{"data":{"values":[{"t":"2024-08-25T23:21","t2":"2024-08-26T09:36","p":2703.95,"p2":2697.69}]},"mark":{"type":"rect","color":"#2962ff","cornerRadius":2},"encoding":{"x2":{"field":"t2"},"y2":{"field":"p2"}}},
{"data":{"values":[{"t":"2024-08-26T04:30","p":2700.46,"label":"Mon 26 Aug '24\u00a0\u00a0\u00a004:30 AM"}]},"mark":{"type":"text","fontSize":15.5,"color":"#fff"},"encoding":{"text":{"field":"label"}}},
{"data":{"values":[{"t":"2024-08-26T08:39","t2":"2024-08-26T18:54","p":2703.95,"p2":2697.69}]},"mark":{"type":"rect","color":"#2962ff","cornerRadius":2},"encoding":{"x2":{"field":"t2"},"y2":{"field":"p2"}}},
{"data":{"values":[{"t":"2024-08-26T13:45","p":2700.46,"label":"Mon 26 Aug '24\u00a0\u00a0\u00a001:45 PM"}]},"mark":{"type":"text","fontSize":15.5,"color":"#fff"},"encoding":{"text":{"field":"label"}}},
{"data":{"values":[{"t":"2024-08-25T22:11","p":2802.72,"p2":2697.08},{"t":"2024-08-27T00:24","p":2802.72,"p2":2697.08}]},"mark":{"type":"rule","color":"#1b47b5","strokeWidth":2},"encoding":{"y2":{"field":"p2"}}},
{"data":{"values":[{"t":"2024-08-25T22:10","t2":"2024-08-27T00:24","p":2697.3}]},"mark":{"type":"rule","color":"#1b47b5","strokeWidth":1.5},"encoding":{"x2":{"field":"t2"}}}
]},
{"width":530,"height":70,"data":{"values":[{"panel":"toolbar"}]},"layer":[
{"mark":{"type":"text","align":"left","fontSize":18,"color":"#666","clip":true},"encoding":{"text":{"value":"BTCUSD"},"x":{"datum":61,"scale":{"domain":[0,530]},"axis":null},"y":{"datum":-3,"scale":{"domain":[70,0]},"axis":null}}},
{"mark":{"type":"text","align":"left","fontSize":18,"color":"#666","clip":true},"encoding":{"text":{"value":"5m"},"x":{"datum":180,"scale":{"domain":[0,530]},"axis":null},"y":{"datum":-3,"scale":{"domain":[70,0]},"axis":null}}},
{"mark":{"type":"text","align":"left","fontSize":18,"color":"#666","clip":true},"encoding":{"text":{"value":"BTCUSDT"},"x":{"datum":61,"scale":{"domain":[0,530]},"axis":null},"y":{"datum":73,"scale":{"domain":[70,0]},"axis":null}}},
{"mark":{"type":"text","align":"left","fontSize":18,"color":"#666","clip":true},"encoding":{"text":{"value":"30m"},"x":{"datum":180,"scale":{"domain":[0,530]},"axis":null},"y":{"datum":73,"scale":{"domain":[70,0]},"axis":null}}},
{"mark":{"type":"rule","color":"#222","strokeWidth":1},"encoding":{"x":{"datum":1,"scale":{"domain":[0,530]},"axis":null},"x2":{"datum":529},"y":{"datum":70,"scale":{"domain":[70,0]},"axis":null}}},
{"mark":{"type":"text","align":"left","fontSize":19,"fontWeight":500,"color":"#ccc"},"encoding":{"text":{"value":"BTCUSD"},"x":{"datum":61,"scale":{"domain":[0,530]},"axis":null},"y":{"datum":35,"scale":{"domain":[70,0]},"axis":null}}},
{"mark":{"type":"text","align":"left","fontSize":19,"fontWeight":500,"color":"#ccc"},"encoding":{"text":{"value":"15m"},"x":{"datum":180,"scale":{"domain":[0,530]},"axis":null},"y":{"datum":35,"scale":{"domain":[70,0]},"axis":null}}},
{"mark":{"type":"point","shape":"circle","filled":true,"opacity":1,"color":"#e8890c","size":415},"encoding":{"x":{"datum":32.5,"scale":{"domain":[0,530]},"axis":null},"y":{"datum":35,"scale":{"domain":[70,0]},"axis":null}}},
{"mark":{"type":"text","fontSize":13,"fontWeight":700,"color":"#f8e0c0"},"encoding":{"text":{"value":"B"},"x":{"datum":32.5,"scale":{"domain":[0,530]},"axis":null},"y":{"datum":35,"scale":{"domain":[70,0]},"axis":null}}},
{"mark":{"type":"point","shape":"M-1,0H1M0,-1V1","filled":false,"opacity":1,"stroke":"#ddd","strokeWidth":1.8,"size":529},"encoding":{"x":{"datum":370,"scale":{"domain":[0,530]},"axis":null},"y":{"datum":35,"scale":{"domain":[70,0]},"axis":null}}},
{"mark":{"type":"point","shape":"M-1,.45L.5,-1L1,-.45L-.5,1ZM-.65,.1L-.4,.35M-.35,-.2L-.1,.05M-.05,-.5L.2,-.25M.25,-.8L.5,-.55","filled":false,"opacity":1,"stroke":"#2962ff","strokeWidth":1.8,"size":900},"encoding":{"x":{"datum":432,"scale":{"domain":[0,530]},"axis":null},"y":{"datum":35,"scale":{"domain":[70,0]},"axis":null}}},
{"mark":{"type":"point","shape":"circle","filled":true,"opacity":1,"color":"#ccc","size":24},"encoding":{"x":{"datum":484.5,"scale":{"domain":[0,530]},"axis":null},"y":{"datum":35,"scale":{"domain":[70,0]},"axis":null}}},
{"mark":{"type":"point","shape":"circle","filled":true,"opacity":1,"color":"#ccc","size":24},"encoding":{"x":{"datum":493.5,"scale":{"domain":[0,530]},"axis":null},"y":{"datum":35,"scale":{"domain":[70,0]},"axis":null}}},
{"mark":{"type":"point","shape":"circle","filled":true,"opacity":1,"color":"#ccc","size":24},"encoding":{"x":{"datum":502.5,"scale":{"domain":[0,530]},"axis":null},"y":{"datum":35,"scale":{"domain":[70,0]},"axis":null}}},
{"mark":{"type":"point","shape":"circle","filled":true,"opacity":1,"color":"#e53945","size":45},"encoding":{"x":{"datum":502.5,"scale":{"domain":[0,530]},"axis":null},"y":{"datum":26,"scale":{"domain":[70,0]},"axis":null}}}
]},
{"width":530,"height":97,"data":{"values":[{"tab":"Watchlist"},{"tab":"Chart"},{"tab":"Explore"},{"tab":"Ideas"},{"tab":"Menu"}]},
"encoding":{"x":{"field":"tab","type":"nominal","sort":null,"title":null,"axis":null,"scale":{"type":"band","paddingInner":0,"paddingOuter":0,"domain":["Watchlist","Chart","Explore","Ideas","Menu"]}}},
"layer":[
{"transform":[{"filter":"datum.tab!='Chart'"}],"mark":{"type":"point","filled":false,"opacity":1,"stroke":"#e8e8e8","strokeWidth":1.7,"size":784},"encoding":{"y":{"datum":21,"scale":{"domain":[97,0]},"axis":null},"shape":{"field":"tab","type":"nominal","legend":null,"scale":{"domain":["Watchlist","Explore","Ideas","Menu"],"range":["M0,-1L.29,-.31L1,-.31L.45,.15L.62,.9L0,.5L-.62,.9L-.45,.15L-1,-.31L-.29,-.31Z","M-.95,0A.95,.95 0 1,1 .95,0A.95,.95 0 1,1 -.95,0ZM.55,-.55L.15,.2L-.55,.55L-.15,-.2Z","M-.45,.35A.75,.75 0 1,1 .45,.35V.6H-.45ZM-.3,.85H.3L.2,1H-.2ZM-.3,-.2H.3M0,-.2V.3","M-.9,-.7H.9M-.9,0H.9M-.9,.7H.9"]}}}},
{"transform":[{"filter":"datum.tab=='Chart'"}],"mark":{"type":"point","shape":"M-.85,-1H.85Q1,-1 1,-.85V.85Q1,1 .85,1H-.85Q-1,1 -1,.85V-.85Q-1,-1 -.85,-1Z","filled":true,"opacity":1,"color":"#2962ff","size":784},"encoding":{"y":{"datum":22,"scale":{"domain":[97,0]},"axis":null}}},
{"transform":[{"filter":"datum.tab=='Chart'"}],"mark":{"type":"point","shape":"M-.5,.15L-.2,-.2L.2,.15L.5,-.1","filled":false,"opacity":1,"stroke":"#000","strokeWidth":1.5,"size":784},"encoding":{"y":{"datum":22,"scale":{"domain":[97,0]},"axis":null}}},
{"transform":[{"filter":"datum.tab=='Chart'"}],"mark":{"type":"point","shape":"M.5,-.71A.28,.28 0 1,1 1.06,-.71A.28,.28 0 1,1 .5,-.71Z","filled":true,"opacity":1,"color":"#e53945","size":784},"encoding":{"y":{"datum":21,"scale":{"domain":[97,0]},"axis":null}}},
{"mark":{"type":"text","fontSize":13.5,"fontWeight":500},"encoding":{"text":{"field":"tab"},"y":{"datum":52,"scale":{"domain":[97,0]},"axis":null},"color":{"condition":{"test":"datum.tab=='Chart'","value":"#3b6fe8"},"value":"#ddd"}}},
{"transform":[{"filter":"datum.tab=='Explore'"}],"mark":{"type":"point","shape":"M-1,-.035H1V.035H-1Z","filled":true,"opacity":1,"color":"#e6e6e6","size":19600},"encoding":{"y":{"datum":83,"scale":{"domain":[97,0]},"axis":null}}}
]}
]}
